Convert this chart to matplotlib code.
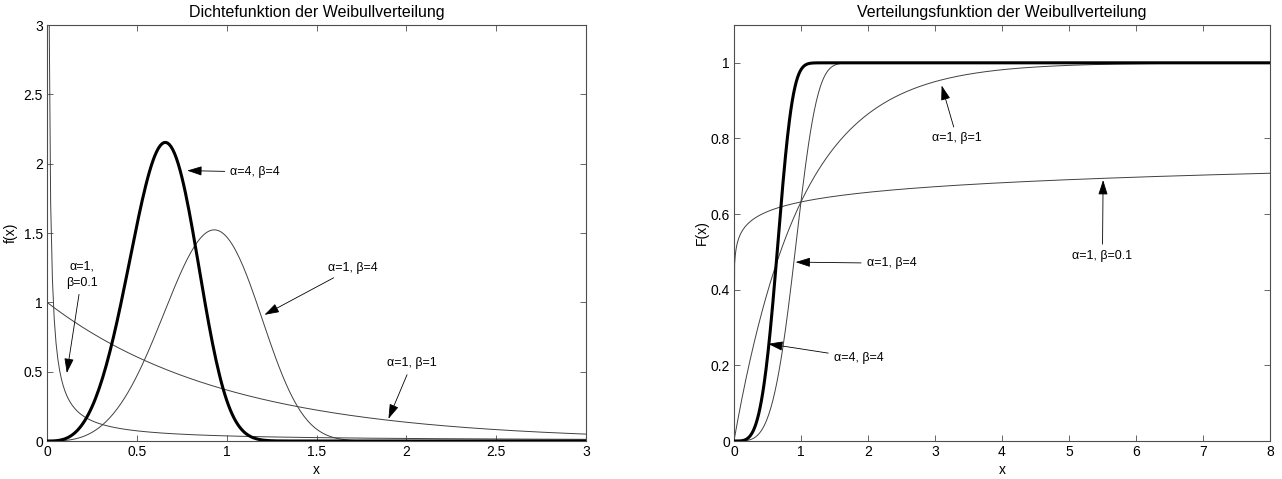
import numpy as np
import matplotlib
matplotlib.use("Agg")
import matplotlib.pyplot as plt

plt.rcParams['font.family'] = ['Liberation Sans', 'DejaVu Sans']

# Weibull parameters
alphas = [1, 1, 1, 4]
betas = [0.1, 1, 4, 4]
thick = [False, False, False, True]

# axis ranges / ticks
pdf_xticks = [0, 0.5, 1, 1.5, 2, 2.5, 3]
pdf_yticks = [0, 0.5, 1, 1.5, 2, 2.5, 3]
cdf_xticks = [0, 1, 2, 3, 4, 5, 6, 7, 8]
cdf_yticks = [0, 0.2, 0.4, 0.6, 0.8, 1]
pdf_xtick_labels = ['0', '0.5', '1', '1.5', '2', '2.5', '3']
pdf_ytick_labels = ['0', '0.5', '1', '1.5', '2', '2.5', '3']
cdf_xtick_labels = ['0', '1', '2', '3', '4', '5', '6', '7', '8']
cdf_ytick_labels = ['0', '0.2', '0.4', '0.6', '0.8', '1']

# annotations: (text, arrow tip xy, text xy, alignment)
pdf_notes = [
    ('\u03b1=4, \u03b2=4', (0.78, 1.95), (1.02, 1.94), 'left'),
    ('\u03b1=1, \u03b2=4', (1.21, 0.91), (1.70, 1.25), 'center'),
    ('\u03b1=1, \u03b2=1', (1.90, 0.16), (2.03, 0.56), 'center'),
    ('\u03b1=1,\n\u03b2=0.1', (0.11, 0.49), (0.195, 1.20), 'center'),
]
cdf_notes = [
    ('\u03b1=1, \u03b2=1', (3.10, 0.94), (3.33, 0.80), 'center'),
    ('\u03b1=1, \u03b2=0.1', (5.51, 0.69), (5.50, 0.49), 'center'),
    ('\u03b1=1, \u03b2=4', (0.92, 0.473), (1.98, 0.47), 'left'),
    ('\u03b1=4, \u03b2=4', (0.51, 0.257), (1.49, 0.22), 'left'),
]


def pdf(x, a, b):
    with np.errstate(divide='ignore', invalid='ignore'):
        y = a * b * x ** (b - 1) * np.exp(-a * x ** b)
    y[~np.isfinite(y)] = np.nan
    return y


def cdf(x, a, b):
    return 1 - np.exp(-a * x ** b)


fig = plt.figure(figsize=(12.82, 4.79), dpi=100)
ax1 = fig.add_axes([0.0367, 0.0793, 0.4205, 0.8685])
ax2 = fig.add_axes([0.5725, 0.0793, 0.4181, 0.8685])

x1 = np.arange(0, 3.0001, 0.01)
x2 = np.arange(0, 8.0001, 0.01)

for a, b, t in zip(alphas, betas, thick):
    lw = 2.2 if t else 0.7
    col = 'black' if t else '0.25'
    ax1.plot(x1, pdf(x1, a, b), color=col, lw=lw, zorder=3 if t else 2)
    ax2.plot(x2, cdf(x2, a, b), color=col, lw=lw, zorder=3 if t else 2)

ax1.set_xlim(0, 3)
ax1.set_ylim(0, 3)
ax2.set_xlim(0, 8)
ax2.set_ylim(0, 1.1)

ax1.set_xticks(pdf_xticks, pdf_xtick_labels)
ax1.set_yticks(pdf_yticks, pdf_ytick_labels)
ax2.set_xticks(cdf_xticks, cdf_xtick_labels)
ax2.set_yticks(cdf_yticks, cdf_ytick_labels)

for ax in (ax1, ax2):
    ax.tick_params(direction='in', top=True, right=True, length=4,
                   width=0.6, labelsize=10, color='0.3', pad=3)
    for s in ax.spines.values():
        s.set_linewidth(0.8)
        s.set_color('0.3')
    ax.set_xlabel('x', fontsize=10, labelpad=3)

ax1.set_ylabel('f(x)', fontsize=10, labelpad=4)
ax2.set_ylabel('F(x)', fontsize=10, labelpad=1)
ax1.set_title('Dichtefunktion der Weibullverteilung', fontsize=11.5, pad=6)
ax2.set_title('Verteilungsfunktion der Weibullverteilung', fontsize=11.5, pad=6)

arrowprops = dict(arrowstyle='-|>,head_length=1.0,head_width=0.32',
                  color='black', lw=0.6, shrinkA=2, shrinkB=0)
for ax, notes in ((ax1, pdf_notes), (ax2, cdf_notes)):
    for txt, tip, pos, ha in notes:
        ax.annotate(txt, xy=tip, xytext=pos, ha=ha, va='center',
                    fontsize=9, arrowprops=arrowprops, zorder=5,
                    linespacing=1.5)

fig.savefig('out.png', dpi=100)
